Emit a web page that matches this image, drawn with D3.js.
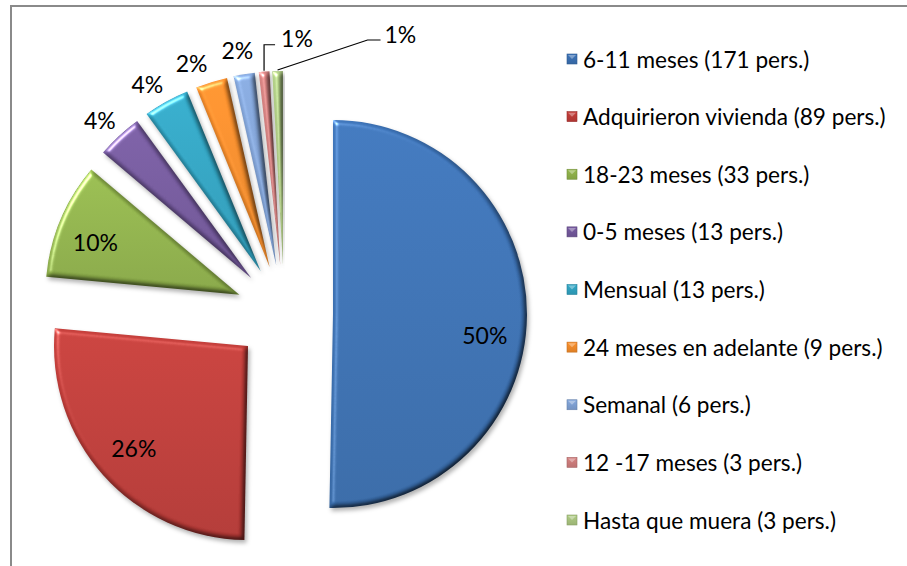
<!DOCTYPE html>
<html>
<head>
<meta charset="utf-8">
<script src="https://cdn.jsdelivr.net/npm/d3@7"></script>
<style>
  body { margin: 0; background: #fff; }
  svg { display: block; font-family: Lato, "Open Sans", sans-serif; }
</style>
</head>
<body>
<svg id="chart" width="907" height="566"></svg>
<script>
// Categories and counts, as written in the legend
const categories = ["6-11 meses", "Adquirieron vivienda", "18-23 meses", "0-5 meses",
  "Mensual", "24 meses en adelante", "Semanal", "12 -17 meses", "Hasta que muera"];
const counts = [171, 89, 33, 13, 13, 9, 6, 3, 3];
// Percent labels as they are printed on the slices
const pctLabels = ["50%", "26%", "10%", "4%", "4%", "2%", "2%", "1%", "1%"];

const colors = ["#3a6fb1", "#bd3b38", "#8fb14a", "#73589b", "#30a2c0",
  "#f28b2a", "#7fa1d4", "#cd7d7c", "#a9c47f"];

const W = 907, H = 566;
const cx = 284.3, cy = 313.6;      // pie centre before explosion
const R = 194;
const explode = 48.7;
// small angular nudges (degrees) Excel applied to label placement
const labelNudge = [7.4, 0, -2.7, -0.8, -2, -3.4, -0.7];

const svg = d3.select("#chart");
const defs = svg.append("defs");

// Soft bevel + shadow, close to the Office look
const f = defs.append("filter").attr("id", "bevel")
  .attr("x", "-10%").attr("y", "-10%").attr("width", "125%").attr("height", "125%")
  .attr("color-interpolation-filters", "sRGB");
f.append("feGaussianBlur").attr("in", "SourceAlpha").attr("stdDeviation", 2.5).attr("result", "blur");
f.append("feDiffuseLighting").attr("in", "blur").attr("surfaceScale", 3)
  .attr("diffuseConstant", 1 / Math.sin(Math.PI / 3)).attr("lighting-color", "#fff").attr("result", "diff")
  .append("feDistantLight").attr("azimuth", 225).attr("elevation", 60);
f.append("feSpecularLighting").attr("in", "blur").attr("surfaceScale", 3)
  .attr("specularConstant", 0.6).attr("specularExponent", 30).attr("lighting-color", "#fff").attr("result", "spec")
  .append("feDistantLight").attr("azimuth", 225).attr("elevation", 40);
f.append("feComposite").attr("in", "SourceGraphic").attr("in2", "diff")
  .attr("operator", "arithmetic").attr("k1", 1).attr("k2", 0).attr("k3", 0).attr("k4", 0).attr("result", "shaded");
f.append("feComposite").attr("in", "spec").attr("in2", "SourceAlpha").attr("operator", "in").attr("result", "specIn");
f.append("feComposite").attr("in", "shaded").attr("in2", "specIn")
  .attr("operator", "arithmetic").attr("k1", 0).attr("k2", 1).attr("k3", 1).attr("k4", 0).attr("result", "lit");
f.append("feGaussianBlur").attr("in", "SourceAlpha").attr("stdDeviation", 2).attr("result", "sblur");
f.append("feOffset").attr("in", "sblur").attr("dx", 2).attr("dy", 3).attr("result", "soff");
f.append("feFlood").attr("flood-color", "#000").attr("flood-opacity", 0.3);
f.append("feComposite").attr("in2", "soff").attr("operator", "in").attr("result", "shadow");
const fm = f.append("feMerge");
fm.append("feMergeNode").attr("in", "shadow");
fm.append("feMergeNode").attr("in", "lit");

// vertical gradient for each colour
colors.forEach((c, i) => {
  const g = defs.append("linearGradient").attr("id", "grad" + i)
    .attr("x1", 0).attr("y1", 0).attr("x2", 0).attr("y2", 1);
  g.append("stop").attr("offset", 0).attr("stop-color", d3.color(c).brighter(0.12));
  g.append("stop").attr("offset", 1).attr("stop-color", d3.color(c).darker(0.25));
});

// chart frame
svg.append("rect")
  .attr("x", 11).attr("y", 6).attr("width", W).attr("height", H)
  .attr("fill", "none").attr("stroke", "#8a8a8a").attr("stroke-width", 2);

const pie = d3.pie().sort(null).value(d => d).startAngle(0).endAngle(2 * Math.PI);
const arcs = pie(counts);
const arc = d3.arc().innerRadius(0).outerRadius(R);

const dirOf = (d, nudge = 0) => {
  const a = (d.startAngle + d.endAngle) / 2 + nudge * Math.PI / 180;
  return [Math.sin(a), -Math.cos(a)];
};
const apexOf = d => {
  const [dx, dy] = dirOf(d);
  return [cx + dx * explode, cy + dy * explode];
};

const slices = svg.append("g").selectAll("g.slice")
  .data(arcs)
  .join("g")
  .attr("class", "slice")
  .attr("transform", d => `translate(${apexOf(d)})`);

slices.append("path")
  .attr("d", arc)
  .attr("fill", (d, i) => `url(#grad${i})`)
  .attr("filter", "url(#bevel)");

// labels
const labelG = svg.append("g").attr("font-size", 23).attr("fill", "#000");
arcs.forEach((d, i) => {
  if (i >= 7) return;
  const [ax, ay] = apexOf(d);
  const [dx, dy] = dirOf(d, labelNudge[i]);
  const r = i < 3 ? R * 0.79 : R + 25;
  labelG.append("text")
    .attr("x", ax + dx * r).attr("y", ay + dy * r)
    .attr("text-anchor", "middle").attr("dominant-baseline", "central")
    .text(pctLabels[i]);
});

// the two thinnest slices get leader lines
const leaders = { 7: { bend: [[0, -26], [11, -26]], text: [17, -33] },
                  8: { bend: [[90, -30], [103, -30]], text: [107, -36] } };
Object.keys(leaders).forEach(k => {
  const i = +k, d = arcs[i], L = leaders[k];
  const [ax, ay] = apexOf(d);
  const [dx, dy] = dirOf(d);
  const tx = ax + dx * (R + 1), ty = ay + dy * (R + 1);
  const pts = [[tx, ty]].concat(L.bend.map(([bx, by]) => [tx + bx, ty + by]));
  svg.append("path")
    .attr("d", d3.line()(pts))
    .attr("fill", "none").attr("stroke", "#000").attr("stroke-width", 1.2);
  labelG.append("text")
    .attr("x", tx + L.text[0]).attr("y", ty + L.text[1])
    .attr("dominant-baseline", "central")
    .text(pctLabels[i]);
});

// legend
const rowY = d3.scalePoint().domain(categories).range([59, 520]);
const legend = svg.append("g").selectAll("g.item")
  .data(categories)
  .join("g")
  .attr("class", "item")
  .attr("transform", d => `translate(567,${rowY(d)})`);

legend.append("rect")
  .attr("x", 0).attr("y", -5).attr("width", 10).attr("height", 10)
  .attr("fill", (d, i) => `url(#grad${i})`)
  .attr("stroke", (d, i) => d3.color(colors[i]).darker(0.6)).attr("stroke-width", 0.6);
legend.append("path")
  .attr("d", "M1,-4L5,0L9,-4Z")
  .attr("fill", "#fff").attr("opacity", 0.35);

legend.append("text")
  .attr("x", 16).attr("y", 0)
  .attr("dominant-baseline", "central")
  .attr("font-size", 22.6)
  .text((d, i) => `${d} (${counts[i]} pers.)`);
</script>
</body>
</html>
